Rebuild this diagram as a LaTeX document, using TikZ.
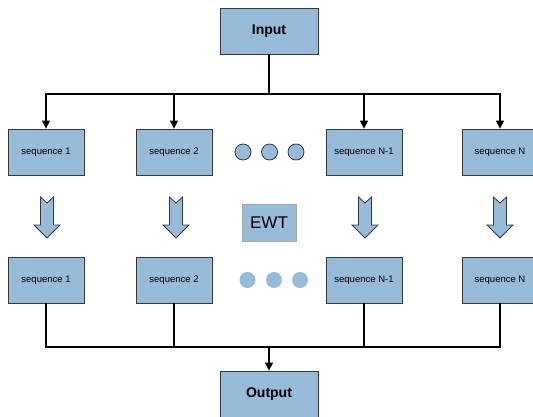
\documentclass[tikz,border=0pt]{standalone}
\usepackage{fontspec}
\setmainfont{Liberation Sans}
\usepackage{tikz}
\usetikzlibrary{arrows.meta}

\definecolor{boxblue}{RGB}{151,187,216}
\definecolor{boxline}{RGB}{54,57,61}

\begin{document}
\begin{tikzpicture}[
    x=1pt, y=-1pt,
    every node/.style={draw=boxline, fill=boxblue, line width=0.8pt, inner sep=0pt},
    seq/.style={minimum width=76pt, minimum height=46pt, font=\fontsize{9.5}{11}\selectfont},
    io/.style={minimum width=98pt, minimum height=46pt, font=\fontsize{14}{16}\selectfont\bfseries},
    dot/.style={circle, minimum size=16pt},
    wire/.style={line width=1.3pt},
    arr/.style={wire, -{Triangle[length=8pt, width=8pt]}}
]
\useasboundingbox (0,0) rectangle (533,416);

\node[io] (in) at (269,31) {Input};
\node[io] (out) at (269,394) {Output};

% two rows of sequences
\foreach \x/\t [count=\i] in {46/1, 174/2, 364/N-1, 500/N} {
    \node[seq] (t\i) at (\x,152) {sequence \t};
    \node[seq] (b\i) at (\x,280) {sequence \t};
}

% dots between sequence 2 and N-1
\foreach \x [count=\i] in {243, 269.5, 296}
    \node[dot] (td\i) at (\x,152) {};
\foreach \x [count=\i] in {247.5, 274, 300}
    \node[dot, draw=none] (bd\i) at (\x,280) {};

\node[draw=gray!70, minimum width=54pt, minimum height=37pt,
      font=\fontsize{17}{19}\selectfont] (ewt) at (269,223) {EWT};

% block arrows
\foreach \x in {47, 176, 365, 500}
    \draw[fill=boxblue, draw=boxline, line width=0.8pt]
        (\x-6.5,197) -- (\x,203) -- (\x+6.5,197) -- (\x+6.5,225)
        -- (\x+13,225) -- (\x,238) -- (\x-13,225) -- (\x-6.5,225) -- cycle;

% split and join
\coordinate (split) at (269,94);
\coordinate (join) at (269,347);
\draw[wire] (in) -- (split);
\foreach \i in {1,...,4}
    \draw[arr] (split) -| (t\i);
\foreach \i in {1,...,4}
    \draw[wire] (b\i) |- (join);
\draw[arr] (join) -- (out);

\end{tikzpicture}
\end{document}
